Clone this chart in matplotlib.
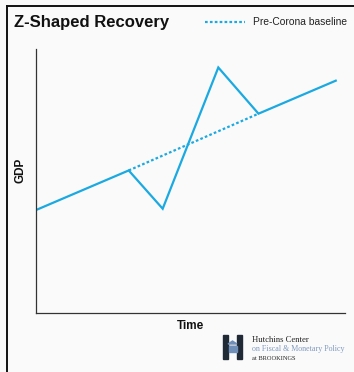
import matplotlib
matplotlib.use("Agg")
import matplotlib.pyplot as plt
from matplotlib.patches import Rectangle, Polygon
from matplotlib.lines import Line2D

# Trajectoire stylisée du PIB (reprise en Z)
time = [0, 30, 41, 59, 72, 97]
gdp = [39, 54, 39.5, 93, 75.5, 88]
# Tendance d'avant la crise, entre le choc et le retour
base_time = [30, 72]
base_gdp = [54, 75.5]

blue = "#1ba9e1"
bg = "#fafafa"

W, H = 354, 372
fig = plt.figure(figsize=(W / 100, H / 100), dpi=100, facecolor=bg)

def px(x, y):
    # coordonnées pixels (origine en haut à gauche) -> fraction de figure
    return x / W, 1 - y / H

# cadre gauche et haut
fig.add_artist(Line2D([7 / W, 7 / W], [0, 1 - 6 / H], color="#111111", lw=1.4))
fig.add_artist(Line2D([7 / W, 1], [1 - 6 / H, 1 - 6 / H], color="#111111", lw=1.4))

x0, y0 = px(36, 313)
x1, y1 = px(345, 49)
ax = fig.add_axes([x0, y0, x1 - x0, y1 - y0], facecolor=bg)
ax.plot(time, gdp, color=blue, lw=1.6, solid_joinstyle="miter")
ax.plot(base_time, base_gdp, color=blue, lw=1.6, linestyle=(0, (1.2, 1.0)))
ax.set_xlim(0, 100)
ax.set_ylim(0, 100)
ax.set_xticks([])
ax.set_yticks([])
for s in ["top", "right"]:
    ax.spines[s].set_visible(False)
for s in ["left", "bottom"]:
    ax.spines[s].set_color("#333333")
    ax.spines[s].set_linewidth(0.9)

fig.text(*px(14, 22), "Z-Shaped Recovery", fontsize=12, fontweight="bold",
         family="Liberation Sans", va="center", ha="left", color="#111111")

# légende
fig.add_artist(Line2D([205 / W, 245 / W], [1 - 22 / H, 1 - 22 / H], color=blue,
                      lw=1.6, linestyle=(0, (1.2, 1.0))))
fig.text(*px(253, 22), "Pre-Corona baseline", fontsize=7.4,
         family="Liberation Sans", va="center", ha="left", color="#222222")

fig.text(*px(20, 170), "GDP", fontsize=8.5, fontweight="bold", rotation=90,
         family="Liberation Sans", va="center", ha="center", color="#111111")
fig.text(*px(190, 326), "Time", fontsize=8.5, fontweight="bold",
         family="Liberation Sans", va="center", ha="center", color="#111111")

# logo Hutchins Center
dark = "#1f2a36"
for lx in (223, 237):
    fig.add_artist(Rectangle(px(lx, 359), 5 / W, 24 / H, color=dark,
                             transform=fig.transFigure))
fig.add_artist(Rectangle(px(228, 348), 9 / W, 2 / H, color=dark,
                         transform=fig.transFigure))
fig.add_artist(Polygon([px(228, 344), px(232.5, 341), px(237, 344)], closed=True,
                       color="#6f8fb8", transform=fig.transFigure))
fig.add_artist(Rectangle(px(228.5, 352), 8 / W, 6 / H, color="#6f8fb8",
                         transform=fig.transFigure))

fig.text(*px(252, 340), "Hutchins Center", fontsize=6.2, family="Liberation Serif",
         va="center", ha="left", color="#222222")
fig.text(*px(252, 349), "on Fiscal & Monetary Policy", fontsize=5.8,
         family="Liberation Serif", va="center", ha="left", color="#7f9ac0")
fig.text(*px(252, 358), "at BROOKINGS", fontsize=4.6, family="Liberation Serif",
         va="center", ha="left", color="#222222")

fig.savefig("out.png", dpi=100, facecolor=bg)
